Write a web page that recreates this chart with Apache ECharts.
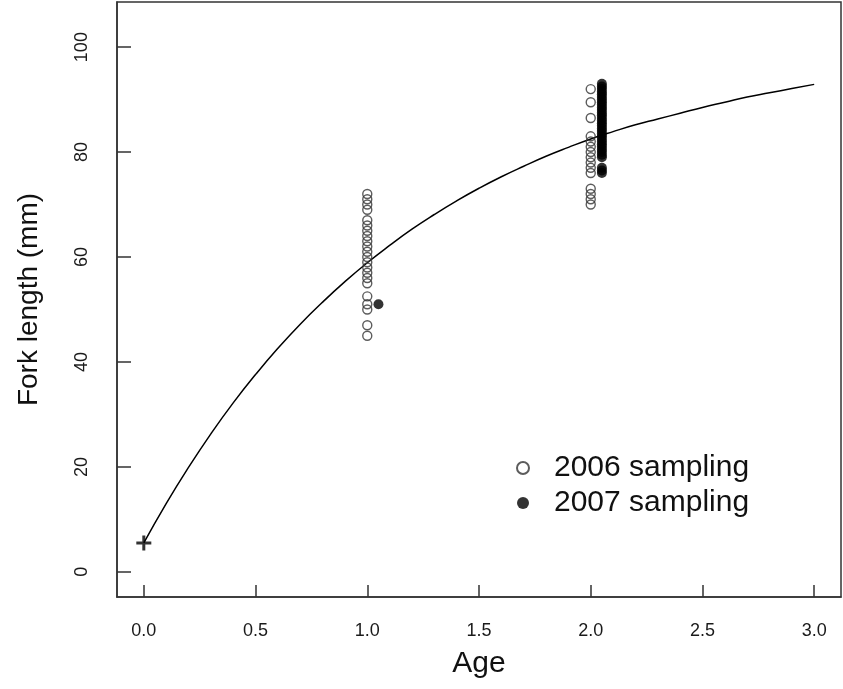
<!DOCTYPE html>
<html>
<head>
<meta charset="utf-8">
<script src="https://cdn.jsdelivr.net/npm/echarts@6/dist/echarts.min.js"></script>
<style>
  html, body { margin: 0; padding: 0; background: #fff; }
  #container { width: 843px; height: 689px; }
</style>
</head>
<body>
<div id="container"></div>
<script>
// fitted growth curve at 0.1 year steps
var curveAge = [0.0, 0.1, 0.2, 0.3, 0.4, 0.5, 0.6, 0.7, 0.8, 0.9, 1.0, 1.1, 1.2, 1.3, 1.4, 1.5,
  1.6, 1.7, 1.8, 1.9, 2.0, 2.1, 2.2, 2.3, 2.4, 2.5, 2.6, 2.7, 2.8, 2.9, 3.0];
var curveLength = [5.5, 13.0, 19.9, 26.3, 32.2, 37.6, 42.6, 47.2, 51.4, 55.3, 58.9, 62.2, 65.3, 68.1, 70.7, 73.1,
  75.3, 77.3, 79.2, 80.9, 82.5, 83.9, 85.2, 86.3, 87.4, 88.5, 89.5, 90.5, 91.3, 92.1, 92.9];

// 2006 sampling (open circles)
var open1Age = 1.0;
var open1Length = [72, 71, 70, 69, 67, 66, 65, 64, 63, 62, 61, 60, 59, 58, 57, 56, 55, 52.5, 51, 50, 47, 45];
var open2Age = 2.0;
var open2Length = [92, 89.5, 86.5, 83, 82, 81, 80, 79, 78, 77, 76, 73, 72, 71, 70];

// 2007 sampling (filled circles)
var fill1Age = 1.05;
var fill1Length = [51];
var fill2Age = 2.05;
var fill2Length = [93, 92.5, 92, 91.5, 91, 90.5, 90, 89.5, 89, 88.5, 88, 87.5, 87, 86.5, 86, 85.5, 85,
  84.5, 84, 83.5, 83, 82.5, 82, 81.5, 81, 80.5, 80, 79.5, 79, 77, 76.5, 76];

// origin marker (+)
var startPoint = [0, 5.5];

var xTicks = [0, 0.5, 1, 1.5, 2, 2.5, 3];
var yTicks = [0, 20, 40, 60, 80, 100];

function pairs(age, list) {
  return list.map(function (v) { return [age, v]; });
}

var curveData = curveAge.map(function (a, i) { return [a, curveLength[i]]; });
var openData = pairs(open1Age, open1Length).concat(pairs(open2Age, open2Length));
var fillData = pairs(fill1Age, fill1Length).concat(pairs(fill2Age, fill2Length));

var font = 'Liberation Sans, Arial, sans-serif';
var myChart = echarts.init(document.getElementById('container'));

var option = {
  animation: false,
  backgroundColor: '#fff',
  textStyle: { fontFamily: font },
  grid: {
    left: 117, right: 2, top: 2, bottom: 92,
    show: true, borderColor: '#333', borderWidth: 1.5
  },
  legend: {
    data: ['2006 sampling', '2007 sampling'],
    orient: 'vertical',
    left: 516, top: 453, padding: 0,
    itemWidth: 12, itemHeight: 12, itemGap: 5,
    textStyle: { fontSize: 30, color: '#111', fontFamily: font, padding: [0, 0, 0, 20] }
  },
  xAxis: {
    type: 'value',
    min: -0.12, max: 3.12,
    name: 'Age',
    nameLocation: 'middle',
    nameGap: 52,
    nameTextStyle: { fontSize: 30, color: '#111', fontFamily: font },
    splitLine: { show: false },
    axisLine: { show: true, onZero: false, lineStyle: { color: '#333', width: 1.5 } },
    axisTick: { show: true, inside: true, length: 12, customValues: xTicks, lineStyle: { color: '#333', width: 1.5 } },
    axisLabel: {
      customValues: xTicks, margin: 25, fontSize: 18, color: '#1a1a1a',
      formatter: function (v) { return v.toFixed(1); }
    }
  },
  yAxis: {
    type: 'value',
    min: -4.8, max: 108.6,
    name: 'Fork length (mm)',
    nameLocation: 'middle',
    nameGap: 74,
    nameTextStyle: { fontSize: 28, color: '#111', fontFamily: font },
    splitLine: { show: false },
    axisLine: { show: true, onZero: false, lineStyle: { color: '#333', width: 1.5 } },
    axisTick: { show: true, inside: true, length: 14, customValues: yTicks, lineStyle: { color: '#333', width: 1.5 } },
    axisLabel: { customValues: yTicks, rotate: 90, margin: 26, fontSize: 18, color: '#1a1a1a' }
  },
  series: [
    {
      name: 'curve',
      type: 'line',
      data: curveData,
      showSymbol: false,
      smooth: true,
      lineStyle: { color: '#000', width: 1.5 },
      z: 1
    },
    {
      name: 'start',
      type: 'scatter',
      data: [startPoint],
      symbol: 'path://M4,0h2v4h4v2h-4v4h-2v-4h-4v-2h4z',
      symbolSize: 15,
      itemStyle: { color: '#000' },
      z: 3
    },
    {
      name: '2006 sampling',
      type: 'scatter',
      data: openData,
      symbol: 'circle',
      symbolSize: 9,
      itemStyle: { color: 'rgba(255,255,255,0)', borderColor: '#333', borderWidth: 1.4 },
      z: 2
    },
    {
      name: '2007 sampling',
      type: 'scatter',
      data: fillData,
      symbol: 'circle',
      symbolSize: 10,
      itemStyle: { color: '#000' },
      z: 3
    }
  ]
};

option && myChart.setOption(option);
</script>
</body>
</html>
